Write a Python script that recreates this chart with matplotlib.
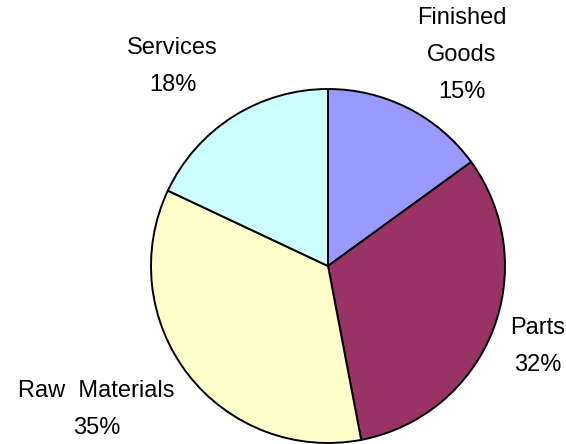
import matplotlib
matplotlib.use("Agg")
import matplotlib.pyplot as plt
import numpy as np

categories = ["Finished\nGoods", "Parts", "Raw  Materials", "Services"]
shares = [15, 32, 35, 18]
colors = ["#9999FF", "#993366", "#FFFFCC", "#CCFFFF"]
# label offsets (distance from center in radius units) for each slice
label_dist = [1.41, 1.27, 1.54, 1.43]
label_angle_shift = [-5.4, 0.6, -6.0, 5.5]

plt.rcParams['font.family'] = ['Liberation Sans', 'DejaVu Sans']

fig = plt.figure(figsize=(5.66, 4.44), dpi=100)
cx, cy, r = 328, 266, 177
W, H = 566, 444
ax = fig.add_axes([(cx - r) / W, (H - cy - r) / H, 2 * r / W, 2 * r / H])

wedges, _ = ax.pie(shares, colors=colors, startangle=90, counterclock=False,
                   wedgeprops=dict(edgecolor="black", linewidth=1.4))
ax.set_xlim(-1, 1)
ax.set_ylim(-1, 1)
ax.set_aspect('equal')
ax.axis('off')

total = sum(shares)
for w, cat, s, d, sh in zip(wedges, categories, shares, label_dist, label_angle_shift):
    mid = (w.theta1 + w.theta2) / 2 + sh
    x = d * np.cos(np.radians(mid))
    y = d * np.sin(np.radians(mid))
    ax.text(x, y, f"{cat}\n{round(100 * s / total)}%", ha='center', va='center',
            multialignment='center', fontsize=17, linespacing=1.88, clip_on=False,
            color='black')

fig.savefig("out.png", dpi=100)
